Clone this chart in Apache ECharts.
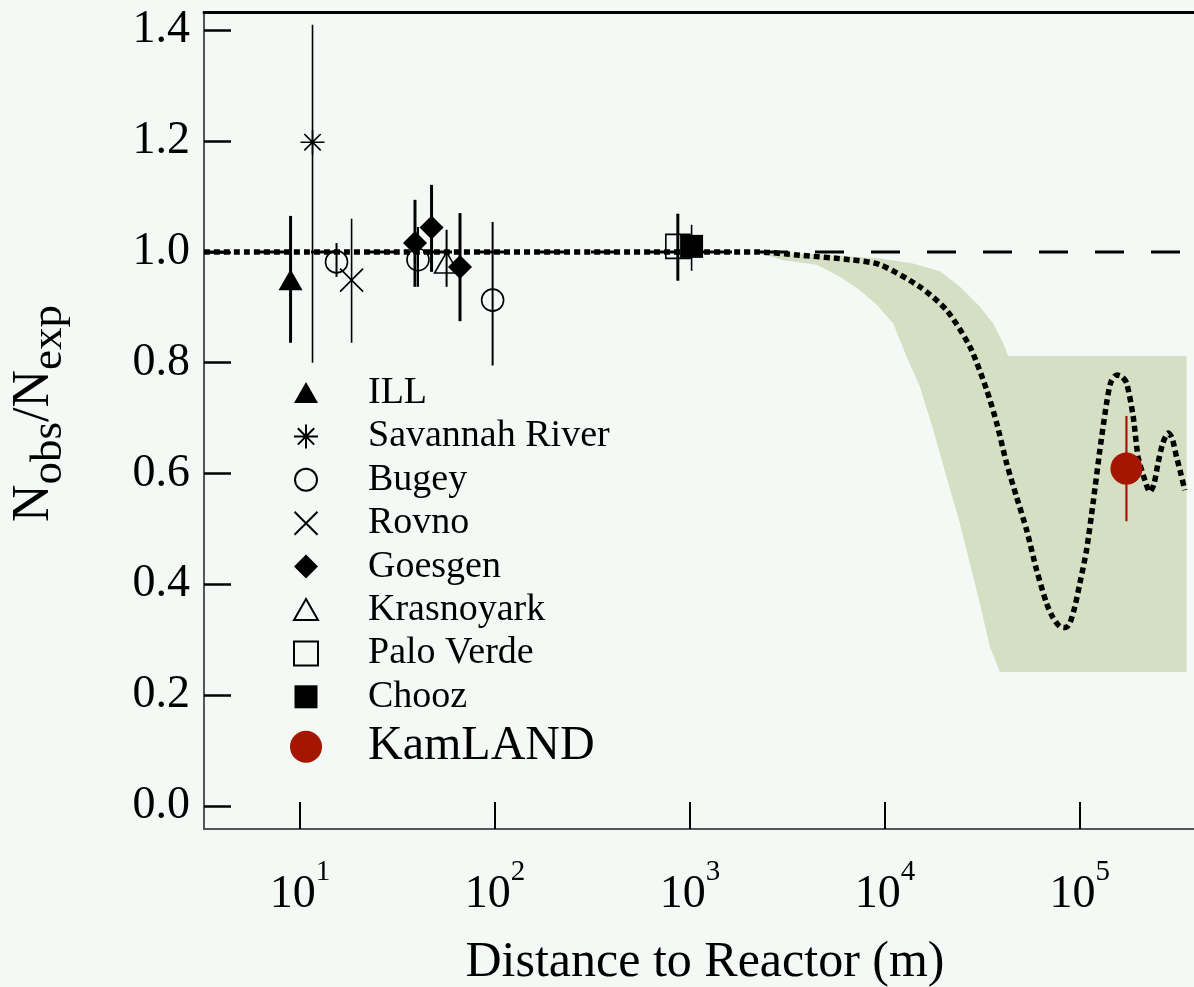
<!DOCTYPE html>
<html><head><meta charset="utf-8">
<script src="https://cdn.jsdelivr.net/npm/echarts@6/dist/echarts.min.js"></script>
<style>html,body{margin:0;padding:0;background:#f5f9f6;}#c{width:1194px;height:987px;}</style>
</head><body><div id="c"></div><script>
// ---------- axis ranges and ticks ----------
const X_MIN = 3.22, X_MAX = 384900;
const Y_MIN = -0.0415, Y_MAX = 1.433;
const xTickValues = [10, 100, 1000, 10000, 100000];
const yTickValues = [0, 0.2, 0.4, 0.6, 0.8, 1.0, 1.2, 1.4];

// ---------- data: [distance (m), Nobs/Nexp, lower error, upper error] ----------
const illData        = [[8.95, 0.949, 0.836, 1.065]];
const savannahData   = [[11.6, 1.198, 0.800, 1.410]];
const bugeyData      = [[15.4, 0.982, 0.955, 1.016], [40.3, 0.986, 0.937, 1.045], [97.3, 0.913, 0.795, 1.054]];
const rovnoData      = [[18.4, 0.949, 0.836, 1.060]];
const goesgenData    = [[38.9, 1.016, 0.937, 1.094], [47.3, 1.044, 0.964, 1.121], [66.2, 0.973, 0.875, 1.070]];
const krasnoyarkData = [[56.5, 0.980, 0.937, 1.040]];
const paloVerdeData  = [[867, 1.010, 0.948, 1.069]];
const choozData      = [[1020, 1.010, 0.966, 1.049]];
const kamlandData    = [[173300, 0.609, 0.514, 0.704]];

// no-oscillation expectation
const expectationLine = [[X_MIN, 1.0], [X_MAX, 1.0]];

// best-fit oscillation prediction
const predictionCurve = [
  [X_MIN, 1.0], [2210, 1.0], [3660, 0.994], [6620, 0.986], [9420, 0.977], [15100, 0.937],
  [20700, 0.895], [27290, 0.829], [33270, 0.751], [37440, 0.691], [42060, 0.619],
  [47330, 0.558], [53330, 0.498], [59980, 0.426], [67450, 0.366], [72780, 0.340],
  [78890, 0.324], [84720, 0.322], [88860, 0.330], [94250, 0.360], [100000, 0.402],
  [108200, 0.462], [116900, 0.547], [126700, 0.643], [137100, 0.727], [144200, 0.765],
  [154300, 0.778], [164200, 0.775], [173800, 0.763], [187700, 0.703], [199000, 0.630],
  [215400, 0.588], [228500, 0.567], [239500, 0.580], [251800, 0.619], [266400, 0.655],
  [283800, 0.673], [296600, 0.665], [313200, 0.630], [329400, 0.600], [345300, 0.570]
];

// allowed region (shaded band)
const bandUpper = [
  [2200, 1.0], [4450, 0.996], [9420, 0.988], [13960, 0.979], [19140, 0.965], [24270, 0.937],
  [30690, 0.901], [35910, 0.871], [40460, 0.835], [42850, 0.812], [352500, 0.812]
];
const bandLower = [
  [2200, 1.0], [3000, 0.985], [4470, 0.977], [5880, 0.955], [7450, 0.931], [9060, 0.905],
  [11040, 0.871], [12920, 0.811], [15100, 0.757], [17690, 0.679], [20700, 0.594],
  [24270, 0.510], [27290, 0.438], [30690, 0.366], [34530, 0.288], [38880, 0.242], [352500, 0.242]
];

const legendNames = ['ILL', 'Savannah River', 'Bugey', 'Rovno', 'Goesgen', 'Krasnoyark', 'Palo Verde', 'Chooz', 'KamLAND'];

// ---------- styling ----------
const FONT = 'Liberation Serif';
const BOX = 'M0 0M32 32';
const SYM = {
  triFill: 'path://' + BOX + 'M4 26L16 5L28 26Z',
  star:    'path://' + BOX + 'M16 4L16 28M4 16L28 16M7.8 7.8L24.2 24.2M24.2 7.8L7.8 24.2',
  circ:    'path://' + BOX + 'M5 16A11 11 0 1 0 27 16A11 11 0 1 0 5 16Z',
  cross:   'path://' + BOX + 'M4.5 4.5L27.5 27.5M27.5 4.5L4.5 27.5',
  diam:    'path://' + BOX + 'M16 4L28 16L16 28L4 16Z',
  triOpen: 'path://' + BOX + 'M4 26L16 5L28 26Z',
  sqOpen:  'path://' + BOX + 'M4 4L28 4L28 28L4 28Z',
  sqFill:  'path://' + BOX + 'M4.5 4.5L27.5 4.5L27.5 27.5L4.5 27.5Z'
};
const OPEN = {color: 'rgba(0,0,0,0)', borderColor: '#000', borderWidth: 1.6, opacity: 1};
const LINEY = {color: '#000', borderColor: '#000', borderWidth: 1.6, opacity: 1};
const FILL = {color: '#000', borderWidth: 0, opacity: 1};
const RED = '#a51600';

function errSeries(name, data, color, width) {
  return {
    name: name + ' err', type: 'custom', data: data, z: 4, silent: true,
    encode: {x: 0, y: [2, 3]},
    renderItem: function (params, api) {
      const p1 = api.coord([api.value(0), api.value(2)]);
      const p2 = api.coord([api.value(0), api.value(3)]);
      return {type: 'line', shape: {x1: p1[0], y1: p1[1], x2: p2[0], y2: p2[1]},
              style: {stroke: color, lineWidth: width}};
    }
  };
}
function ptSeries(name, data, symbol, itemStyle, size) {
  return {name: name, type: 'scatter', data: data, symbol: symbol, symbolSize: size || 32,
          itemStyle: itemStyle, z: 5, encode: {x: 0, y: 1}, emphasis: {disabled: true}};
}

const series = [
  {
    name: 'band', type: 'custom', data: bandUpper, z: 1, silent: true,
    encode: {x: 0, y: 1},
    renderItem: function (params, api) {
      if (params.dataIndex !== 0) return null;
      const pts = [];
      bandUpper.forEach(p => pts.push(api.coord(p)));
      bandLower.slice().reverse().forEach(p => pts.push(api.coord(p)));
      return {type: 'polygon', shape: {points: pts}, style: {fill: '#d4dfc3'}};
    }
  },
  {name: 'expectation', type: 'line', data: expectationLine, z: 2, silent: true, showSymbol: false,
   lineStyle: {color: '#000', width: 3, type: [29, 27], dashOffset: 5}},
  {name: 'prediction', type: 'line', data: predictionCurve, z: 3, silent: true, showSymbol: false,
   smooth: 0.25, lineStyle: {color: '#000', width: 5.5, type: [6, 4], cap: 'butt'}},
  errSeries('ILL', illData, '#000', 3),
  errSeries('Savannah River', savannahData, '#000', 1.6),
  errSeries('Bugey', bugeyData, '#000', 2),
  errSeries('Rovno', rovnoData, '#000', 1.6),
  errSeries('Goesgen', goesgenData, '#000', 3),
  errSeries('Krasnoyark', krasnoyarkData, '#000', 2),
  errSeries('Palo Verde', paloVerdeData, '#000', 3),
  errSeries('Chooz', choozData, '#000', 1.6),
  errSeries('KamLAND', kamlandData, RED, 2.2),
  ptSeries('ILL', illData, SYM.triFill, FILL),
  ptSeries('Savannah River', savannahData, SYM.star, LINEY),
  ptSeries('Bugey', bugeyData, SYM.circ, OPEN),
  ptSeries('Rovno', rovnoData, SYM.cross, LINEY),
  ptSeries('Goesgen', goesgenData, SYM.diam, FILL),
  ptSeries('Krasnoyark', krasnoyarkData, SYM.triOpen, OPEN),
  ptSeries('Palo Verde', paloVerdeData, SYM.sqOpen, OPEN),
  ptSeries('Chooz', choozData, SYM.sqFill, FILL),
  ptSeries('KamLAND', kamlandData, 'circle', {color: RED, opacity: 1}, 32)
];

const chart = echarts.init(document.getElementById('c'));
chart.setOption({
  animation: false,
  backgroundColor: '#f5f9f6',
  grid: {left: 204, right: 0, top: 12, bottom: 158, containLabel: false, outerBoundsMode: 'none'},
  legend: {
    orient: 'vertical', left: 289, top: 374, padding: 0, itemGap: 5.4,
    itemWidth: 32, itemHeight: 32, selectedMode: false,
    itemStyle: {opacity: 1},
    textStyle: {fontFamily: FONT, fontSize: 38, lineHeight: 38, color: '#000', padding: [0, 0, 0, 41]},
    data: legendNames.map(n => n === 'KamLAND'
      ? {name: n, textStyle: {fontSize: 48, lineHeight: 51, padding: [0, 0, 0, 41]}}
      : {name: n})
  },
  xAxis: [{
    type: 'log', logBase: 10, min: X_MIN, max: X_MAX,
    name: 'Distance to Reactor (m)', nameLocation: 'middle', nameGap: 109,
    nameTextStyle: {fontFamily: FONT, fontSize: 50, lineHeight: 50, color: '#000', padding: [0, 0, 0, 12]},
    axisLine: {onZero: false, lineStyle: {color: '#555', width: 2}},
    axisTick: {inside: true, length: 27, customValues: xTickValues, lineStyle: {color: '#000', width: 2}},
    minorTick: {show: false}, splitLine: {show: false},
    axisLabel: {
      margin: 29, color: '#000', customValues: xTickValues,
      formatter: function (v) {
        const e = Math.log10(v);
        if (Math.abs(e - Math.round(e)) > 1e-6) return '';
        return '{b|10}{s|' + Math.round(e) + '}';
      },
      rich: {
        b: {fontFamily: FONT, fontSize: 46, color: '#000', verticalAlign: 'bottom'},
        s: {fontFamily: FONT, fontSize: 29, lineHeight: 60, color: '#000', verticalAlign: 'top'}
      }
    }
  }, {
    type: 'log', logBase: 10, min: X_MIN, max: X_MAX, position: 'top',
    axisLine: {show: true, onZero: false, lineStyle: {color: '#000', width: 3}},
    axisTick: {show: false}, axisLabel: {show: false}, splitLine: {show: false}
  }],
  yAxis: {
    type: 'value', min: Y_MIN, max: Y_MAX,
    name: '{N|N}{s|obs}{N|/N}{s|exp}', nameLocation: 'middle', nameRotate: 90, nameGap: 132,
    nameTextStyle: {
      padding: [0, 0, 0, 14],
      rich: {
        N: {fontFamily: FONT, fontSize: 52, color: '#000', verticalAlign: 'top'},
        s: {fontFamily: FONT, fontSize: 45, lineHeight: 64, color: '#000', verticalAlign: 'bottom'}
      }
    },
    axisLine: {show: true, onZero: false, lineStyle: {color: '#555', width: 2}},
    axisTick: {inside: true, length: 27, customValues: yTickValues, lineStyle: {color: '#000', width: 2.5}},
    splitLine: {show: false},
    axisLabel: {
      margin: 14, color: '#000', fontFamily: FONT, fontSize: 46, customValues: yTickValues,
      formatter: function (v) {
        const k = v / 0.2;
        if (Math.abs(k - Math.round(k)) > 1e-6) return '';
        return Math.abs(v) < 1e-9 ? '0.0' : v.toFixed(1);
      }
    }
  },
  series: series
});
</script></body></html>
